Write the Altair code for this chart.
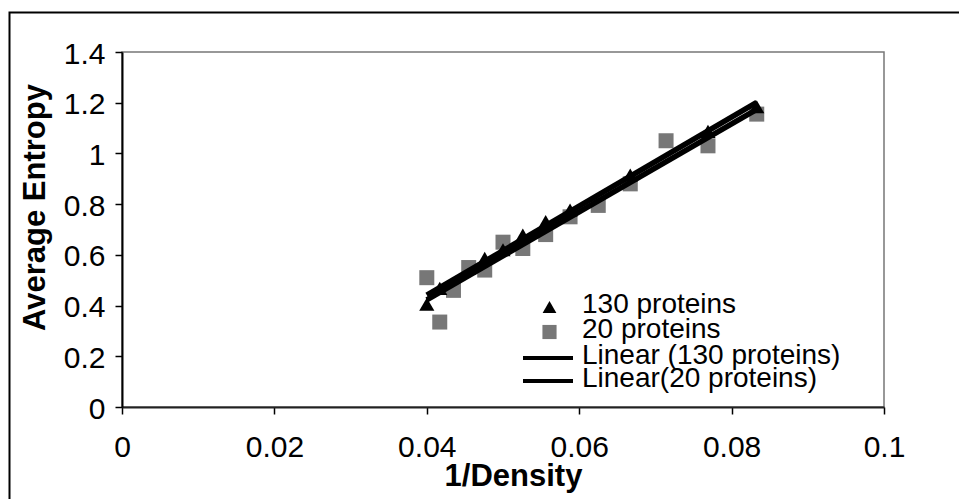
import altair as alt
import pandas as pd

# ---- data ----
x130 = [0.0400, 0.0417, 0.0476, 0.0500, 0.0526, 0.0556, 0.0588, 0.0667, 0.0769, 0.0833]
y130 = [0.405, 0.468, 0.586, 0.62, 0.678, 0.731, 0.777, 0.915, 1.087, 1.184]

x20 = [0.0400, 0.0417, 0.0435, 0.0455, 0.0476, 0.0500, 0.0526, 0.0556, 0.0588,
       0.0625, 0.0667, 0.0714, 0.0769, 0.0833]
y20 = [0.51, 0.335, 0.46, 0.55, 0.54, 0.65, 0.625, 0.68, 0.75,
       0.795, 0.88, 1.05, 1.03, 1.155]

legend_labels = ["130 proteins", "20 proteins", "Linear (130 proteins)", "Linear(20 proteins)"]
x_ticks = [0, 0.02, 0.04, 0.06, 0.08, 0.1]
y_ticks = [0, 0.2, 0.4, 0.6, 0.8, 1.0, 1.2, 1.4]
x_title = "1/Density"
y_title = "Average Entropy"

FONT = "Liberation Sans"
W, H = 762, 355
PL, PT = 122, 52

df130 = pd.DataFrame({"x": x130, "y": y130})
df20 = pd.DataFrame({"x": x20, "y": y20})

xs = alt.Scale(domain=[0, 0.1], nice=False, zero=False)
ys = alt.Scale(domain=[0, 1.4], nice=False, zero=False)

x_axis = alt.Axis(values=x_ticks, format="~g", grid=False, labelFlush=False,
                  labelOverlap=False, labelFontSize=30, labelFont=FONT,
                  labelColor="black", labelPadding=18, tickSize=7, tickWidth=1.5,
                  tickColor="black", domainColor="#222", domainWidth=2,
                  titleFont=FONT, titleFontSize=31, titleFontWeight="bold",
                  titleColor="black", titleX=391, titleY=78,
                  titleBaseline="alphabetic")
y_axis = alt.Axis(values=y_ticks, format="~g", grid=False, labelFlush=False,
                  labelOverlap=False, labelFontSize=30, labelFont=FONT,
                  labelColor="black", labelPadding=10, labelOffset=2, tickSize=7,
                  tickWidth=1.5, tickColor="black", domainColor="black",
                  domainWidth=2, titleFont=FONT, titleFontSize=31,
                  titleFontWeight="bold", titleColor="black", titleX=-78,
                  titleY=155, titleBaseline="alphabetic", titleAngle=270)

X = alt.X("x:Q", scale=xs, title=x_title, axis=x_axis)
Y = alt.Y("y:Q", scale=ys, title=y_title, axis=y_axis)

squares = alt.Chart(df20).mark_point(shape="square", filled=True, color="#777777",
                                     size=225, opacity=1).encode(x=X, y=Y)
triangles = alt.Chart(df130).mark_point(shape="triangle-up", filled=True, color="black",
                                        size=230, opacity=1).encode(x=X, y=Y)
fit130 = alt.Chart(df130).transform_regression("x", "y").mark_line(
    color="black", strokeWidth=5.5).encode(x=X, y=Y)
fit20 = alt.Chart(df20).transform_regression("x", "y").mark_line(
    color="black", strokeWidth=5.5).encode(x=X, y=Y)

# ---- manual legend ----
sym_x = 549.5 - PL
row_y = [307 - PT, 332 - PT, 358 - PT, 381 - PT]
text_x = 582 - PL
legend_layers = []
legend_layers.append(
    alt.Chart(pd.DataFrame({"t": [legend_labels[0]]})).mark_point(
        shape="triangle-up", filled=True, color="black", size=190, opacity=1
    ).encode(x=alt.value(sym_x), y=alt.value(row_y[0]))
)
legend_layers.append(
    alt.Chart(pd.DataFrame({"t": [legend_labels[1]]})).mark_point(
        shape="square", filled=True, color="#777777", size=200, opacity=1
    ).encode(x=alt.value(sym_x), y=alt.value(row_y[1]))
)
for i in (2, 3):
    legend_layers.append(
        alt.Chart(pd.DataFrame({"t": [legend_labels[i]]})).mark_rule(
            color="black", strokeWidth=4
        ).encode(x=alt.value(523 - PL), x2=alt.value(573 - PL), y=alt.value(row_y[i]))
    )
for i, lbl in enumerate(legend_labels):
    legend_layers.append(
        alt.Chart(pd.DataFrame({"t": [lbl]})).mark_text(
            align="left", baseline="middle", font=FONT, fontSize=28, color="black"
        ).encode(text="t:N", x=alt.value(text_x), y=alt.value(row_y[i] - 2))
    )

# ---- outer frame ----
frame = alt.Chart(pd.DataFrame({"t": ["frame"]})).mark_rect(
    fillOpacity=0, stroke="black", strokeWidth=2
).encode(x=alt.value(9.5 - PL), x2=alt.value(990 - PL),
         y=alt.value(12.5 - PT), y2=alt.value(540 - PT))

chart = alt.layer(frame, squares, triangles, fit130, fit20, *legend_layers).properties(
    width=W, height=H,
    autosize=alt.AutoSizeParams(type="none"),
    padding={"left": PL, "top": PT, "right": 959 - PL - W, "bottom": 499 - PT - H},
    background="white",
).configure_view(stroke="#777777", strokeWidth=1.5)

chart.save("out.html", embed_options={"renderer": "svg", "actions": False})
